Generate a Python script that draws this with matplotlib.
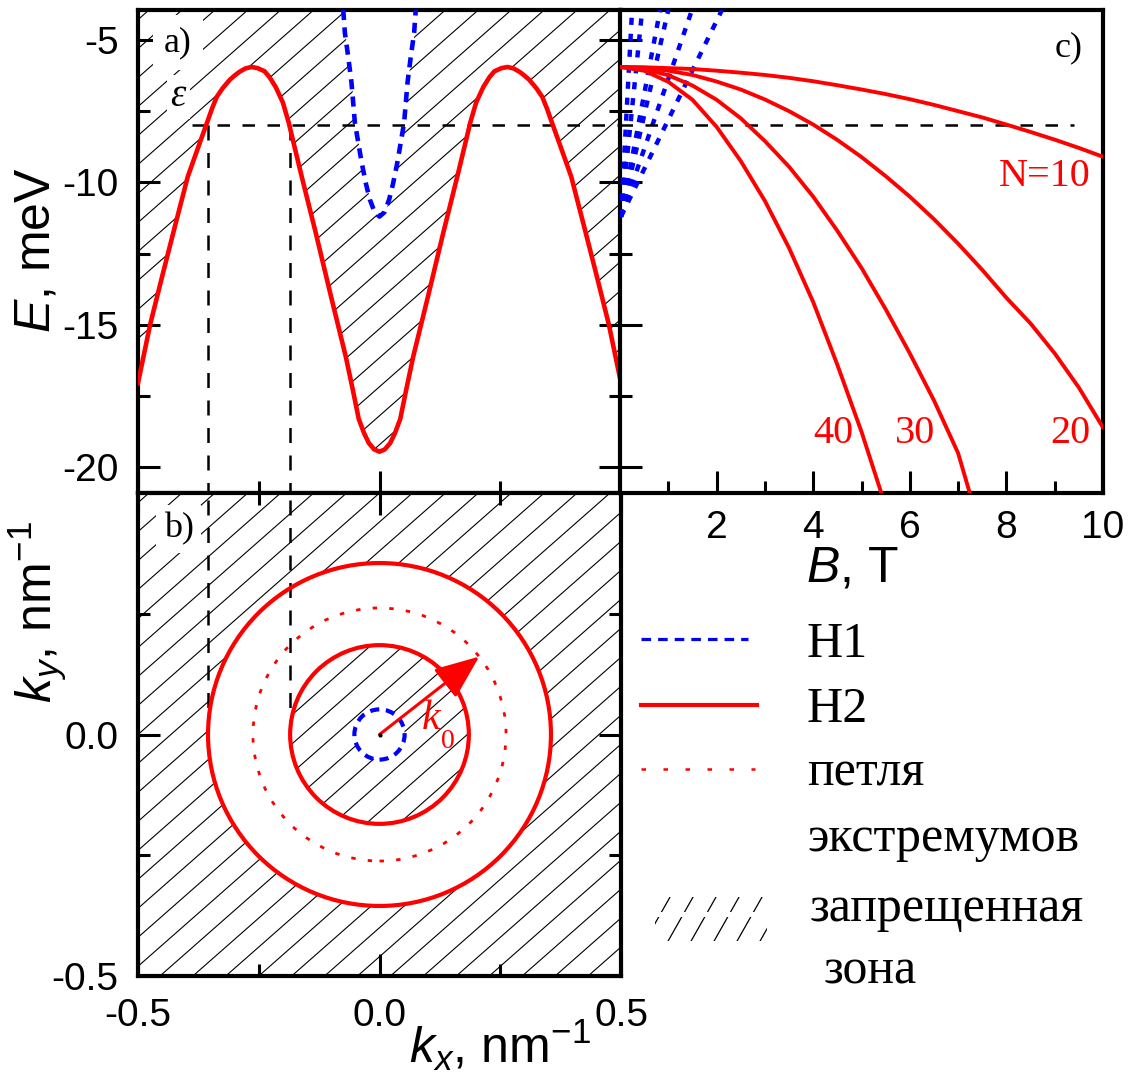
import numpy as np
import matplotlib
matplotlib.use('Agg')
import matplotlib.pyplot as plt
from matplotlib.collections import LineCollection
from matplotlib.patches import Polygon, Circle, Rectangle

plt.rcParams['font.family'] = 'Liberation Sans'
plt.rcParams['axes.unicode_minus'] = False
plt.rcParams['mathtext.fontset'] = 'custom'
plt.rcParams['mathtext.rm'] = 'Liberation Sans'
plt.rcParams['mathtext.it'] = 'Liberation Sans:italic'

# ---- dispersion E(k) at B=0 (panel a) ----
k_h2 = [-0.5, -0.475, -0.45, -0.427, -0.397, -0.375, -0.357, -0.347, -0.337, -0.325, -0.31,
        -0.3, -0.29, -0.2775, -0.265, -0.2525, -0.238, -0.228, -0.215, -0.2, -0.188, -0.161,
        -0.132, -0.099, -0.07, -0.055, -0.043, -0.032, -0.022, -0.011, 0.0,
        0.011, 0.022, 0.032, 0.043, 0.055, 0.07, 0.099, 0.132, 0.161, 0.188, 0.2, 0.215,
        0.228, 0.238, 0.2525, 0.265, 0.2775, 0.29, 0.3, 0.31, 0.325, 0.337, 0.347, 0.357,
        0.375, 0.397, 0.427, 0.45, 0.475, 0.5]
E_h2 = [-17.04, -15.0, -13.3, -11.77, -9.8, -8.75, -7.9, -7.42, -7.0, -6.7, -6.4,
        -6.25, -6.12, -6.0, -5.95, -5.99, -6.1, -6.3, -6.65, -7.2, -7.9, -9.8,
        -11.77, -14.1, -16.1, -17.3, -18.3, -18.8, -19.15, -19.37, -19.45,
        -19.37, -19.15, -18.8, -18.3, -17.3, -16.1, -14.1, -11.77, -9.8, -7.9, -7.2, -6.65,
        -6.3, -6.1, -5.99, -5.95, -6.0, -6.12, -6.25, -6.4, -6.7, -7.0, -7.42, -7.9,
        -8.75, -9.8, -11.77, -13.3, -15.0, -17.04]
k_h1 = [-0.075, -0.0717, -0.0647, -0.058, -0.051, -0.037, -0.028, -0.02, -0.01, 0.0,
        0.01, 0.02, 0.028, 0.037, 0.051, 0.058, 0.0647, 0.0717, 0.075]
E_h1 = [-3.95, -4.75, -5.6, -6.5, -7.9, -9.3, -10.05, -10.6, -11.05, -11.2,
        -11.05, -10.6, -10.05, -9.3, -7.9, -6.5, -5.6, -4.75, -3.95]

eps = -8.0          # Fermi level
k_out = 0.355       # H2 contours at E = eps
k_in = 0.185
k_loop = 0.262      # loop of extrema
k_h1_eps = 0.052    # H1 contour at E = eps
arrow_deg = 38

# ---- Landau levels (panel c) ----
B_n10 = [0, 0.5, 1, 1.5, 2, 2.5, 3, 3.5, 4, 4.5, 5, 5.5, 6, 6.5, 7, 7.5, 8, 8.5, 9, 9.5, 10]
E_n10 = [-5.95, -5.96, -5.99, -6.02, -6.08, -6.15, -6.23, -6.33, -6.45, -6.59, -6.74,
         -6.9, -7.08, -7.28, -7.5, -7.72, -7.97, -8.23, -8.5, -8.79, -9.1]
B_n20 = [0, 0.5, 1, 1.5, 2, 2.5, 3, 3.5, 4, 4.5, 5, 5.5, 6, 6.5, 7, 7.5, 8, 8.5, 9, 9.5, 10]
E_n20 = [-5.95, -5.98, -6.08, -6.23, -6.46, -6.74, -7.09, -7.5, -7.97, -8.51, -9.11,
         -9.78, -10.5, -11.29, -12.15, -13.07, -14.05, -14.95, -16.0, -17.2, -18.6]
B_n30 = [0, 0.5, 1, 1.5, 2, 2.5, 3, 3.5, 4, 4.5, 5, 5.5, 6, 6.5, 7, 7.25]
E_n30 = [-5.95, -6.02, -6.24, -6.6, -7.1, -7.75, -8.55, -9.45, -10.5, -11.7, -13.0,
         -14.45, -16.0, -17.65, -19.5, -20.95]
B_n40 = [0, 0.5, 1, 1.5, 2, 2.5, 3, 3.5, 4, 4.5, 5, 5.42]
E_n40 = [-5.95, -6.08, -6.47, -7.1, -8.05, -9.25, -10.65, -12.3, -14.2, -16.4, -18.75, -20.95]
h1_fan_top = [0.25, 0.46, 0.83, 1.0, 1.49, 2.11]   # B where H1 levels leave the frame
h1_fan_start = (0.02, -11.2)

E_lim = (-20.9, -3.95)

fig = plt.figure(figsize=(11.35, 10.75), dpi=100)
W, H = 1135, 1075
def rect(x0, y0, x1, y1):
    return [x0 / W, 1 - y1 / H, (x1 - x0) / W, (y1 - y0) / H]

ax_a = fig.add_axes(rect(138, 10, 621, 493))
ax_b = fig.add_axes(rect(138, 493, 621, 976))
ax_c = fig.add_axes(rect(620, 10, 1103, 493))


def hatch(ax, clip=None, z=1.0, step=0.06, slope=0.88):
    offs = np.arange(-slope - step, 1.0 + step, step)
    segs = [[(0, c), (1, c + slope)] for c in offs]
    lc = LineCollection(segs, colors='black', linewidths=0.8,
                        transform=ax.transAxes, zorder=z)
    ax.add_collection(lc, autolim=False)
    if clip is not None:
        clip.set_transform(ax.transData)
        lc.set_clip_path(clip)


def frame(ax):
    for s in ax.spines.values():
        s.set_linewidth(3.0)
    ax.tick_params(which='both', direction='in', width=2.2, labelsize=28)
    ax.tick_params(which='major', length=16)
    ax.tick_params(which='minor', length=8.5)


# ---- panel a ----
ax_a.set_xlim(-0.5, 0.5)
ax_a.set_ylim(*E_lim)
gap = Polygon(list(zip(k_h2, E_h2)) + [(0.5, 0.0), (-0.5, 0.0)], closed=True)
hatch(ax_a, gap)
ax_a.fill_between(k_h1, E_h1, 0.0, color='white', lw=0, zorder=1.5)
ax_a.plot(k_h2, E_h2, color='red', lw=3.3, zorder=4)
ax_a.plot(k_h1, E_h1, color='blue', lw=3.3, ls=(0, (2.2, 1.6)), zorder=4)
ax_a.plot([-0.388, 0.5], [eps, eps], color='black', lw=1.8, ls=(0, (5, 5)), zorder=3)
for kv in (-k_out, -k_in):
    ax_a.plot([kv, kv], [eps, E_lim[0]], color='black', lw=1.8, ls=(0, (6, 5)), zorder=3)
ax_a.text(-0.417, -5.1, 'a)', family='Liberation Serif', fontsize=26, ha='center', va='center',
          bbox=dict(boxstyle='square,pad=0.3', fc='white', ec='none'), zorder=5)
ax_a.text(-0.417, -7.0, 'ε', family='Liberation Serif', style='italic', fontsize=28,
          ha='center', va='center',
          bbox=dict(boxstyle='square,pad=0.1', fc='white', ec='none'), zorder=5)
frame(ax_a)
ax_a.set_xticks([-0.5, 0, 0.5])
ax_a.set_xticks([-0.25, 0.25], minor=True)
ax_a.set_yticks([-20, -15, -10, -5])
ax_a.set_yticks([-17.5, -12.5, -7.5], minor=True)
ax_a.tick_params(which='both', left=True, right=True, bottom=True, top=False,
                 labelbottom=False, pad=14)

# ---- panel b ----
ax_b.set_xlim(-0.5, 0.5)
ax_b.set_ylim(-0.5, 0.5)
hatch(ax_b)
ax_b.add_patch(Circle((0, 0), k_out, fc='white', ec='none', zorder=1.2))
hatch(ax_b, Circle((0, 0), k_in), z=1.4)
ax_b.add_patch(Circle((0, 0), k_h1_eps, fc='white', ec='none', zorder=1.6))
ax_b.add_patch(Circle((0, 0), k_out, fill=False, ec='red', lw=3.0, zorder=4))
ax_b.add_patch(Circle((0, 0), k_in, fill=False, ec='red', lw=3.0, zorder=4))
ax_b.add_patch(Circle((0, 0), k_loop, fill=False, ec='red', lw=2.0, ls=(0, (1.6, 4.4)), zorder=4))
ax_b.add_patch(Circle((0, 0), k_h1_eps, fill=False, ec='blue', lw=3.0, ls=(0, (2.2, 1.6)), zorder=4))
for kv in (-k_out, -k_in):
    ax_b.plot([kv, kv], [0, 0.5], color='black', lw=1.8, ls=(0, (6, 5)), zorder=3)
ang = np.deg2rad(arrow_deg)
ax_b.annotate('', xy=(k_loop * np.cos(ang), k_loop * np.sin(ang)), xytext=(0, 0),
              arrowprops=dict(arrowstyle='-|>,head_length=1.1,head_width=0.45', color='red',
                              lw=2.2, mutation_scale=25, shrinkA=0, shrinkB=0), zorder=5)
ax_b.plot([0], [0], 'o', color='black', ms=2, zorder=5)
ax_b.text(0.106, 0.032, 'k', family='Liberation Serif', style='italic', fontsize=30,
          color='red', ha='center', va='center', zorder=5)
ax_b.text(0.142, -0.014, '0', family='Liberation Serif', fontsize=20,
          color='red', ha='center', va='center', zorder=5)
ax_b.text(-0.416, 0.425, 'b)', family='Liberation Serif', fontsize=26, ha='center', va='center',
          bbox=dict(boxstyle='square,pad=0.2', fc='white', ec='none'), zorder=5)
frame(ax_b)
ax_b.set_xticks([-0.5, 0, 0.5])
ax_b.set_xticklabels(['-0.5', '0.0', '0.5'])
ax_b.set_xticks([-0.25, 0.25], minor=True)
ax_b.set_yticks([-0.5, 0, 0.5])
ax_b.set_yticklabels(['-0.5', '0.0', ''])
ax_b.set_yticks([-0.25, 0.25], minor=True)
ax_b.tick_params(which='both', left=True, right=True, bottom=True, top=True)
ax_b.tick_params(axis='y', pad=14)
ax_b.tick_params(axis='x', pad=16)

# ---- panel c ----
ax_c.set_xlim(0, 10)
ax_c.set_ylim(*E_lim)
for bt in h1_fan_top:
    ax_c.plot([h1_fan_start[0], bt], [h1_fan_start[1], E_lim[1]], color='blue', lw=3.2,
              ls=(0, (1.6, 2.0)), zorder=3)
for bb, ee in ((B_n10, E_n10), (B_n20, E_n20), (B_n30, E_n30), (B_n40, E_n40)):
    ax_c.plot(bb, ee, color='red', lw=2.8, zorder=4)
ax_c.plot([0, 9.4], [eps, eps], color='black', lw=1.8, ls=(0, (5, 5)), zorder=3)
lab = dict(family='Liberation Serif', fontsize=29, color='red', ha='center', va='center')
ax_c.text(8.8, -9.8, 'N=10', **lab)
ax_c.text(4.42, -18.8, '40', **lab)
ax_c.text(6.1, -18.8, '30', **lab)
ax_c.text(9.33, -18.8, '20', **lab)
ax_c.text(9.28, -5.28, 'c)', family='Liberation Serif', fontsize=26, ha='center', va='center')
frame(ax_c)
ax_c.set_xticks([2, 4, 6, 8, 10])
ax_c.set_xticks([1, 3, 5, 7, 9], minor=True)
ax_c.set_yticks([-20, -15, -10, -5])
ax_c.set_yticks([-17.5, -12.5, -7.5], minor=True)
ax_c.tick_params(which='both', left=True, right=False, top=False, bottom=True,
                 labelleft=False)
ax_c.tick_params(axis='x', pad=12)

# ---- axis titles and legend drawn in figure pixels ----
ax_o = fig.add_axes([0, 0, 1, 1], zorder=10)
ax_o.set_xlim(0, W)
ax_o.set_ylim(H, 0)
ax_o.axis('off')

ax_o.text(36, 250, r'$E$, meV', fontsize=36, rotation=90, ha='center', va='center')
ax_o.text(38, 612, r'$k_y$, nm$^{-1}$', fontsize=36, rotation=90, ha='center', va='center')
ax_o.text(500, 1045, r'$k_x$, nm$^{-1}$', fontsize=36, ha='center', va='center')
ax_o.text(852, 569, r'$B$, T', fontsize=36, ha='center', va='center')

ax_o.plot([641, 748], [639, 639], color='blue', lw=2.3, ls=(0, (3.0, 2.2)))
ax_o.plot([641, 757], [705, 705], color='red', lw=3.0)
ax_o.plot([641, 755], [769, 769], color='red', lw=1.8, ls=(0, (1.8, 7.0)))
for y0, y1 in ((897, 912), (917, 941)):
    box = Rectangle((655, y0), 112, y1 - y0, transform=ax_o.transData)
    segs = [[(x0, 950), (x0 + 34, 890)] for x0 in np.arange(640, 780, 23)]
    lc = LineCollection(segs, colors='black', linewidths=0.9)
    ax_o.add_collection(lc, autolim=False)
    lc.set_clip_path(box)

leg = dict(family='Liberation Serif', fontsize=36, ha='left', va='baseline')
ax_o.text(807, 657, 'H1', **leg)
ax_o.text(807, 722, 'H2', **leg)
ax_o.text(807, 785, 'петля', **leg)
ax_o.text(807, 851, 'экстремумов', **leg)
ax_o.text(810, 921, 'запрещенная', **leg)
ax_o.text(824, 983, 'зона', **leg)

fig.savefig('out.png', dpi=100)
